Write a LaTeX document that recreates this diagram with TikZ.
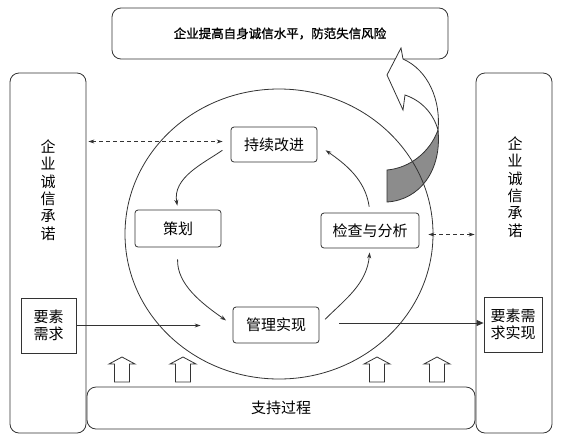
\documentclass[tikz,border=0pt]{standalone}
\usepackage{fontspec}
\setmainfont{Noto Sans CJK SC}
\newfontfamily\goalfont[FakeBold=1.2]{Noto Sans CJK SC}
\usetikzlibrary{arrows.meta}
\begin{document}
\begin{tikzpicture}[x=1pt,y=1pt]
  \tikzset{
    frame/.style={draw=black!80,line width=0.8pt},
    bigbox/.style={frame,rounded corners=9pt,inner sep=0pt},
    stepbox/.style={frame,rounded corners=3pt,inner sep=0pt,minimum width=86pt,minimum height=35pt,font=\fontsize{15}{17}\selectfont},
    needbox/.style={frame,inner sep=0pt,minimum height=55pt,align=center,font=\fontsize{15}{17}\selectfont},
    vtext/.style={align=center,inner sep=0pt,font=\fontsize{15}{17.4}\selectfont},
    cycle/.style={frame,-{Stealth[length=6pt,width=4pt]}},
    dashlink/.style={frame,line width=0.6pt,dash pattern=on 4pt off 3pt,{Stealth[length=6pt,width=4pt]}-{Stealth[length=6pt,width=4pt]}},
    flowline/.style={frame,line width=0.7pt,-{Triangle[length=7pt,width=6pt]}},
  }
  \useasboundingbox (0,0) rectangle (564,-445);
  % outer frames
  \node[bigbox,minimum width=336pt,minimum height=51pt,font=\goalfont\fontsize{12.5}{14}\selectfont] (goal) at (280,-33.5) {企业提高自身诚信水平，防范失信风险};
  \node[bigbox,minimum width=76pt,minimum height=360pt] (lb) at (48,-253) {};
  \node[bigbox,minimum width=76pt,minimum height=360pt] (rb) at (514,-253) {};
  \node[vtext] (lbt) at (48,-190) {企\\业\\诚\\信\\承\\诺};
  \node[vtext] (rbt) at (515,-187) {企\\业\\诚\\信\\承\\诺};
  \node[needbox,minimum width=55pt] (lr) at (48.5,-325.5) {要素\\需求};
  \node[needbox,minimum width=58pt] (rr) at (513,-324.5) {要素需\\求实现};
  \node[bigbox,minimum width=388pt,minimum height=42pt,font=\fontsize{15}{17}\selectfont] (sup) at (281,-408) {支持过程};
  % twisted arrow
  \draw[frame,fill=black!45] (438,-130) .. controls (430,-152) and (410,-168) .. (387,-170)
    -- (387,-202) .. controls (420,-200) and (442,-170) .. (438,-130) -- cycle;
  \draw[frame,fill=white] (438,-130) .. controls (441,-100) and (428,-70) .. (403,-59) -- (401,-48)
    -- (387,-75) -- (403,-110) -- (405,-95) .. controls (420,-100) and (433,-112) .. (438,-130) -- cycle;
  % circle
  \draw[frame] (279,-234) ellipse [x radius=154, y radius=145];
  \node[stepbox] (cx) at (274,-144.5) {持续改进};
  \node[stepbox,minimum height=37pt] (ch) at (178,-228.5) {策划};
  \node[stepbox,minimum width=98pt] (jc) at (370,-230.5) {检查与分析};
  \node[stepbox,minimum height=36pt] (gl) at (276,-325) {管理实现};
  \draw[cycle,shorten <=10pt,shorten >=4pt] (cx.west) to[out=215,in=100] (ch.north);
  \draw[cycle,shorten <=12pt,shorten >=8pt] (ch.south) to[out=268,in=145] (gl.west);
  \draw[cycle,shorten <=8pt,shorten >=4pt] (gl.east) to[out=45,in=265] (jc.south);
  \draw[cycle,shorten <=6pt,shorten >=10pt] (jc.north) to[out=98,in=-35] (cx.east);
  % links
  \draw[dashlink,shorten <=2pt,shorten >=8pt] ([yshift=3pt]cx.west -| lb.east) -- ([yshift=3pt]cx.west);
  \draw[dashlink,shorten <=9pt,shorten >=1pt] ([yshift=-4pt]jc.east) -- ([yshift=-4pt]jc.east -| rb.west);
  \draw[flowline,-{Stealth[length=6pt,width=4pt]},shorten >=32pt] (lr.east) -- (lr.east -| gl.west);
  \draw[flowline,shorten <=20pt] ([yshift=2pt]gl.east) -- ([yshift=2pt]gl.east -| rr.west);
  % support arrows
  \foreach \x in {122,183,377,437}
    \draw[frame] ({\x-7.5},-382) -- ({\x-7.5},-364) -- ({\x-13},-364) -- (\x,-357)
      -- ({\x+13},-364) -- ({\x+7.5},-364) -- ({\x+7.5},-382) -- cycle;
\end{tikzpicture}
\end{document}
